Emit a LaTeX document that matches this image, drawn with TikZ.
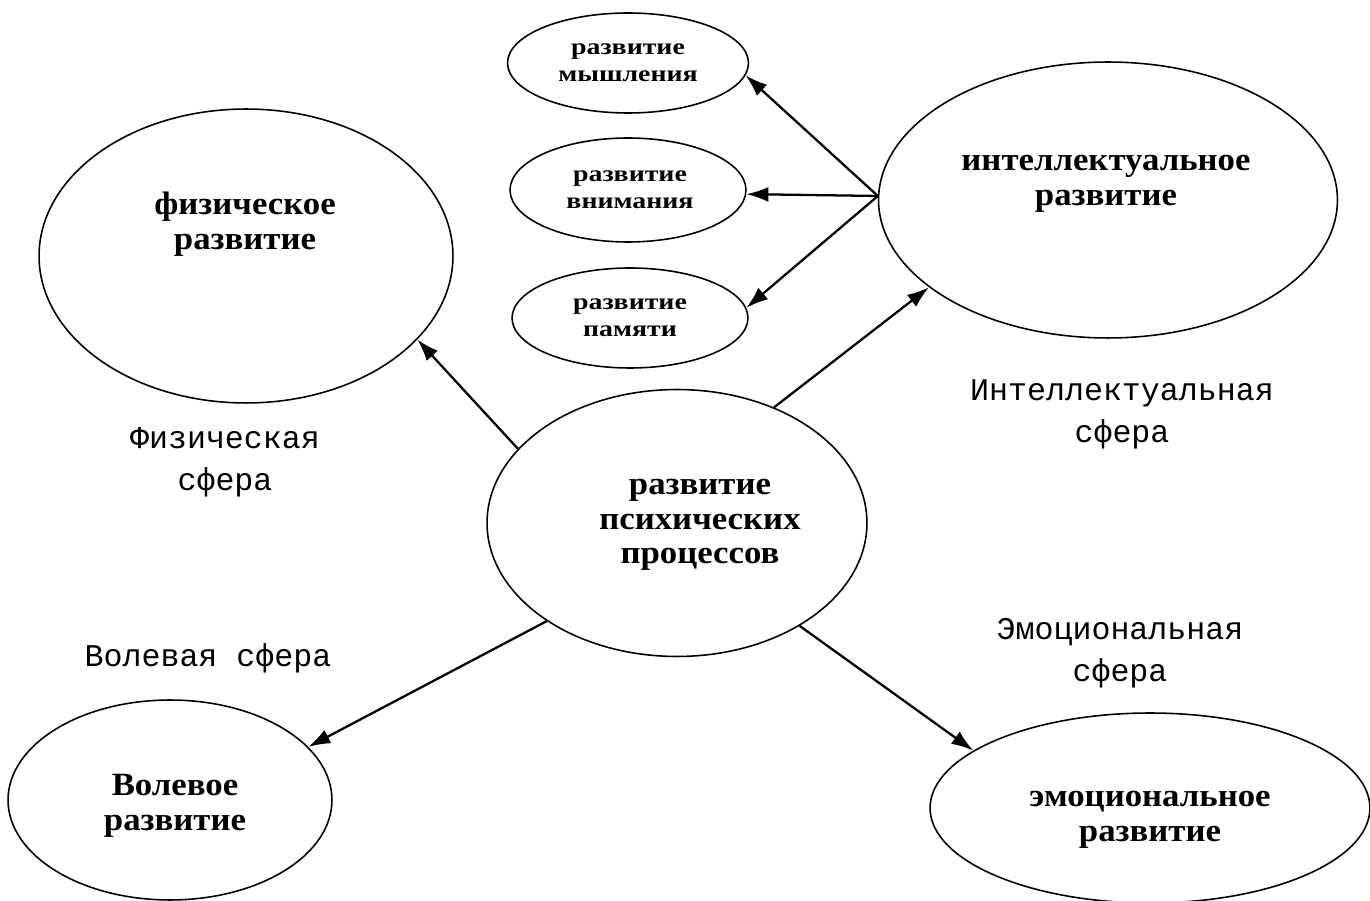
\documentclass[tikz,border=0pt]{standalone}
\usepackage{fontspec}
\setmainfont{Liberation Serif}
\newfontfamily\lblfont{Liberation Mono}
\newfontfamily\boldfnt[FakeStretch=1.07]{Liberation Serif}
\newfontfamily\smallfnt[FakeStretch=1.22]{Liberation Serif}
\usetikzlibrary{shapes.geometric,arrows.meta}
\begin{document}
\begin{tikzpicture}[x=0.02cm,y=-0.02cm,
  oval/.style={draw,ellipse,inner sep=0pt,line width=0.9pt},
  big/.style={font=\boldfnt\bfseries\fontsize{18.5}{19.8}\selectfont,align=center,inner sep=0pt},
  small/.style={font=\smallfnt\bfseries\fontsize{13}{15.3}\selectfont,align=center,inner sep=0pt},
  sphere/.style={font=\lblfont\fontsize{18}{23.8}\selectfont,align=center,inner sep=0pt},
  arr/.style={-{Latex[length=0.44cm,width=0.3cm]},line width=1.3pt}]
\useasboundingbox (0,0) rectangle (1370,901);
\clip (0,0) rectangle (1370,901);
% ellipses
\node[oval,minimum width=8.28cm,minimum height=5.88cm] (f) at (246,256) {};
\node[oval,minimum width=4.82cm,minimum height=2.0cm] (m) at (628,63) {};
\node[oval,minimum width=4.72cm,minimum height=2.08cm] (w) at (628,190) {};
\node[oval,minimum width=4.72cm,minimum height=2.0cm] (p) at (630,318) {};
\node[oval,minimum width=9.18cm,minimum height=5.52cm] (i) at (1108,200) {};
\node[oval,minimum width=7.6cm,minimum height=5.34cm] (c) at (677,523) {};
\node[oval,minimum width=6.48cm,minimum height=4.0cm] (v) at (170,800) {};
\node[oval,minimum width=8.8cm,minimum height=3.8cm] (e) at (1150,808) {};
% texts
\node[big] (ft) at (245,224) {физическое\\развитие};
\node[small] (mt) at (628,63) {развитие\\мышления};
\node[small] (wt) at (630,190) {развитие\\внимания};
\node[small] (pt) at (630,318) {развитие\\памяти};
\node[big] (it) at (1106,184) {интеллектуальное\\развитие};
\node[big] (ct) at (700,525) {развитие\\психических\\процессов};
\node[big] (vt) at (175,806) {Волевое\\развитие};
\node[big] (et) at (1150,820) {эмоциональное\\развитие};
% sphere labels
\node[sphere] (fs) at (225,462) {Физическая\\сфера};
\node[sphere] (is) at (1122,414) {Интеллектуальная\\сфера};
\node[sphere] (vs) at (208,658) {Волевая сфера};
\node[sphere] (es) at (1120,653) {Эмоциональная\\сфера};
% arrows
\draw[arr] (c.155) -- (f.-26);
\draw[arr] (c.50) -- (i.-154);
\draw[arr] (c.217) -- (v.21);
\draw[arr] (c.-40) -- (e.162);
\draw[arr] (i.179) -- (m.-6);
\draw[arr] (i.179) -- (w.-2.5);
\draw[arr] (i.179) -- (p.5);
\end{tikzpicture}
\end{document}
